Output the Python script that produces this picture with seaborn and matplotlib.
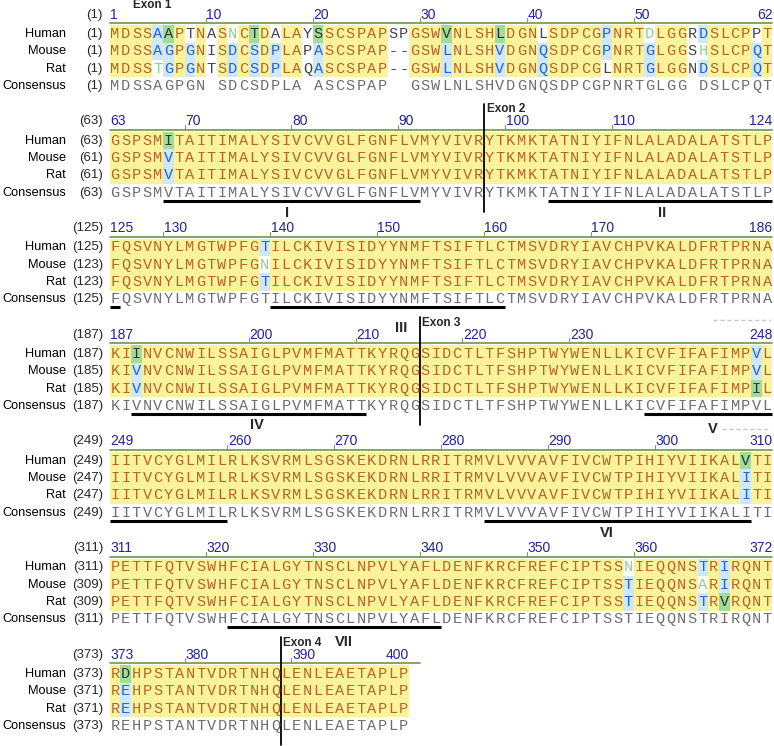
import matplotlib
matplotlib.use('Agg')
import matplotlib.pyplot as plt
import numpy as np
import pandas as pd
import seaborn as sns
from matplotlib import colors

species = ['Human', 'Mouse', 'Rat', 'Consensus']

human = ["MDSSAAPTNASNCTDALAYSSCSPAPSPGSWVNLSHLDGNLSDPCGPNRTDLGGRDSLCPPT",
         "GSPSMITAITIMALYSIVCVVGLFGNFLVMYVIVRYTKMKTATNIYIFNLALADALATSTLP",
         "FQSVNYLMGTWPFGTILCKIVISIDYYNMFTSIFTLCTMSVDRYIAVCHPVKALDFRTPRNA",
         "KIINVCNWILSSAIGLPVMFMATTKYRQGSIDCTLTFSHPTWYWENLLKICVFIFAFIMPVL",
         "IITVCYGLMILRLKSVRMLSGSKEKDRNLRRITRMVLVVVAVFIVCWTPIHIYVIIKALVTI",
         "PETTFQTVSWHFCIALGYTNSCLNPVLYAFLDENFKRCFREFCIPTSSNIEQQNSTRIRQNT",
         "RDHPSTANTVDRTNHQLENLEAETAPLP"]
mouse = ["MDSSAGPGNISDCSDPLAPASCSPAP--GSWLNLSHVDGNQSDPCGPNRTGLGGSHSLCPQT",
         "GSPSMVTAITIMALYSIVCVVGLFGNFLVMYVIVRYTKMKTATNIYIFNLALADALATSTLP",
         "FQSVNYLMGTWPFGNILCKIVISIDYYNMFTSIFTLCTMSVDRYIAVCHPVKALDFRTPRNA",
         "KIVNVCNWILSSAIGLPVMFMATTKYRQGSIDCTLTFSHPTWYWENLLKICVFIFAFIMPVL",
         "IITVCYGLMILRLKSVRMLSGSKEKDRNLRRITRMVLVVVAVFIVCWTPIHIYVIIKALITI",
         "PETTFQTVSWHFCIALGYTNSCLNPVLYAFLDENFKRCFREFCIPTSSTIEQQNSARIRQNT",
         "REHPSTANTVDRTNHQLENLEAETAPLP"]
rat = ["MDSSTGPGNTSDCSDPLAQASCSPAP--GSWLNLSHVDGNQSDPCGLNRTGLGGNDSLCPQT",
       "GSPSMVTAITIMALYSIVCVVGLFGNFLVMYVIVRYTKMKTATNIYIFNLALADALATSTLP",
       "FQSVNYLMGTWPFGTILCKIVISIDYYNMFTSIFTLCTMSVDRYIAVCHPVKALDFRTPRNA",
       "KIVNVCNWILSSAIGLPVMFMATTKYRQGSIDCTLTFSHPTWYWENLLKICVFIFAFIMPIL",
       "IITVCYGLMILRLKSVRMLSGSKEKDRNLRRITRMVLVVVAVFIVCWTPIHIYVIIKALITI",
       "PETTFQTVSWHFCIALGYTNSCLNPVLYAFLDENFKRCFREFCIPTSSTIEQQNSTRVRQNT",
       "REHPSTANTVDRTNHQLENLEAETAPLP"]
consensus = ["MDSSAGPGN SDCSDPLA ASCSPAP  GSWLNLSHVDGNQSDPCGPNRTGLGG DSLCPQT",
             "GSPSMVTAITIMALYSIVCVVGLFGNFLVMYVIVRYTKMKTATNIYIFNLALADALATSTLP",
             "FQSVNYLMGTWPFGTILCKIVISIDYYNMFTSIFTLCTMSVDRYIAVCHPVKALDFRTPRNA",
             "KIVNVCNWILSSAIGLPVMFMATTKYRQGSIDCTLTFSHPTWYWENLLKICVFIFAFIMPVL",
             "IITVCYGLMILRLKSVRMLSGSKEKDRNLRRITRMVLVVVAVFIVCWTPIHIYVIIKALITI",
             "PETTFQTVSWHFCIALGYTNSCLNPVLYAFLDENFKRCFREFCIPTSSTIEQQNSTRIRQNT",
             "REHPSTANTVDRTNHQLENLEAETAPLP"]

human_start = [1, 63, 125, 187, 249, 311, 373]
mouse_start = [1, 61, 123, 185, 247, 309, 371]
rat_start = [1, 61, 123, 185, 247, 309, 371]

ruler = [[1, 10, 20, 30, 40, 50, 62], [63, 70, 80, 90, 100, 110, 124],
         [125, 130, 140, 150, 160, 170, 186], [187, 200, 210, 220, 230, 248],
         [249, 260, 270, 280, 290, 300, 310], [311, 320, 330, 340, 350, 360, 372],
         [373, 380, 390, 400]]

# shading of non-identical columns: (block, column) -> Human/Mouse/Rat
# B = consensus (blue), G = similar (green), L = weakly similar, N = none
marks = {(0, 5): 'BBL', (0, 6): 'GBB', (0, 8): 'NBB', (0, 12): 'LBB', (0, 14): 'GBB',
         (0, 16): 'NBB', (0, 20): 'GBB', (0, 32): 'GBB', (0, 37): 'GBB', (0, 41): 'NBB',
         (0, 47): 'BBN', (0, 51): 'LBB', (0, 56): 'BLB', (0, 61): 'NBB',
         (1, 6): 'GBB', (2, 15): 'BLB', (3, 3): 'GBB', (3, 61): 'BBG',
         (4, 60): 'GBB', (5, 49): 'LBB', (5, 56): 'BLB', (5, 58): 'BBG', (6, 2): 'GBB'}

# exon boundaries: (block, boundary after column, label)
exons = [(0, None, 'Exon 1'), (1, 35, 'Exon 2'), (3, 29, 'Exon 3'), (6, 16, 'Exon 4')]

# transmembrane segments: (block, first col, last col, label, label x, label row)
segments = [(1, 6, 29, 'I', 16.6, 4.67), (1, 42, 62, 'II', 51.7, 4.67),
            (2, 1, 1, '', 0, 0), (2, 16, 37, 'III', 27.3, 5.15),
            (3, 3, 24, 'IV', 13.8, 4.6), (3, 51, 62, 'V', 56.4, 4.8),
            (4, 1, 11, '', 0, 0), (4, 36, 60, 'VI', 46.5, 4.67),
            (5, 12, 31, 'VII', 21.9, 4.8)]

# ---- styling ----
bg = ['#ffffff', '#fbf39b', '#cfe8f7', '#9ede9a']
code_bg = {'Y': 1, 'B': 2, 'G': 3, 'L': 0, 'N': 0, 'C': 0}
code_fg = {'Y': '#b4652a', 'B': '#2563d4', 'G': '#333333', 'L': '#8fd08f',
           'N': '#444444', 'C': '#6e6e6e'}
cmap = colors.ListedColormap(bg)

sns.set_theme(style='white')
plt.rcParams['font.family'] = ['Liberation Sans', 'DejaVu Sans']

W, H = 774, 746
cw, ch = 10.69, 17.33
x0 = 109.7
fig = plt.figure(figsize=(W / 100, H / 100), dpi=100)

for b in range(7):
    head = 15 + 106.67 * b
    top = head + 10.33
    ax = fig.add_axes([x0 / W, 1 - (top + 4 * ch) / H, 62 * cw / W, 4 * ch / H])
    seqs = [human[b], mouse[b], rat[b], consensus[b]]
    n = len(seqs[0])
    cols = []
    for j in range(n):
        res = [s[j] for s in seqs[:3]]
        c = marks.get((b, j + 1))
        if c is None:
            c = 'YYY' if res[0] == res[1] == res[2] else 'NNN'
        cols.append(c + 'C')
    codes = [[cols[j][i] for j in range(n)] for i in range(4)]
    vals = pd.DataFrame([[code_bg[c] for c in row] for row in codes], index=species)
    letters = np.array([list(s) for s in seqs])
    sns.heatmap(vals, ax=ax, cmap=cmap, vmin=-0.5, vmax=3.5, cbar=False,
                annot=letters, fmt='', xticklabels=False, yticklabels=False,
                annot_kws={'family': 'Liberation Mono', 'size': 11})
    for t in ax.texts:
        x, y = t.get_position()
        t.set_color(code_fg[codes[int(y)][int(x)]])
    ax.set_xlim(0, 62)
    ax.set_ylim(4, 0)
    ax.set_axis_off()

    # row names and start numbers
    starts = [human_start[b], mouse_start[b], rat_start[b], human_start[b]]
    for i, name in enumerate(species):
        ax.text(-4.1, i + 0.5, name, ha='right', va='center', fontsize=9.2, color='black')
        ax.text(-0.63, i + 0.5, '(%d)' % starts[i], ha='right', va='center', fontsize=9.5)

    # ruler
    ax.text(-0.63, -0.62, '(%d)' % human_start[b], ha='right', va='center', fontsize=9.5)
    line_end = 62 if n == 62 else n + 1
    ax.plot([0, line_end], [-0.12, -0.12], color='#7a9f55', lw=1.3, clip_on=False)
    for k, num in enumerate(ruler[b]):
        col = num - human_start[b]
        if k == 0:
            ax.text(0.05, -0.62, str(num), ha='left', va='center', fontsize=10, color='#22229a')
        elif k == len(ruler[b]) - 1:
            ax.text(n, -0.62, str(num), ha='right', va='center', fontsize=10, color='#22229a')
        else:
            ax.plot([col, col], [-0.12, -0.4], color='#7a9f55', lw=0.8, clip_on=False)
            ax.text(col + 0.05, -0.62, str(num), ha='left', va='center', fontsize=10,
                    color='#22229a')

    for eb, after, label in exons:
        if eb != b:
            continue
        if after is None:
            ax.text(2.2, -1.17, label, ha='left', va='center', fontsize=8.5, fontweight='bold')
        else:
            ax.plot([after, after], [-1.62, 4.6], color='black', lw=1.3, clip_on=False)
            ax.text(after + 0.25, -1.3, label, ha='left', va='center', fontsize=8.5,
                    fontweight='bold')

    for sb, a, e, label, lx, ly in segments:
        if sb != b:
            continue
        ax.plot([a - 1, e], [3.97, 3.97], color='black', lw=2.2, solid_capstyle='butt',
                clip_on=False)
        if label:
            ax.text(lx, ly, label, ha='center', va='center', fontsize=10.5, fontweight='bold')

    if b == 2:
        ax.plot([56.4, 61.8], [4.7, 4.7], color='#c8c8c8', lw=1, ls=(0, (3, 2)), clip_on=False)
    if b == 3:
        ax.plot([57.3, 61.8], [4.85, 4.85], color='#c8c8c8', lw=1, ls=(0, (3, 2)), clip_on=False)

fig.savefig('out.png', dpi=100, facecolor='white')
